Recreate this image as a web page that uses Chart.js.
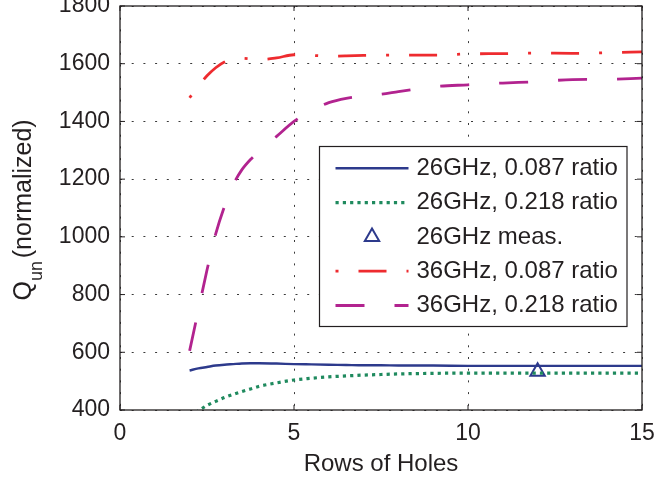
<!DOCTYPE html>
<html>
<head>
<meta charset="utf-8">
<script src="https://cdn.jsdelivr.net/npm/chart.js@4/dist/chart.umd.min.js"></script>
<style>
  html, body { margin: 0; padding: 0; background: #ffffff; }
  #wrap { width: 658px; height: 479px; }
</style>
</head>
<body>
<div id="wrap"><canvas id="c" width="658" height="479"></canvas></div>
<script>
// Number of hole rows (shared x values of the simulated curves)
const rows = [2, 2.25, 2.5, 2.75, 3, 3.25, 3.5, 3.75, 4, 4.5, 5, 5.5, 6, 6.5, 7, 7.5, 8, 9, 10, 11, 12, 13, 14, 15];

// Unloaded Q (normalized) per configuration
const q26_087 = [537, 544, 549, 554, 557, 559, 561, 562, 562, 561, 559, 558, 557, 556, 555, 555, 554, 554, 553, 553, 553, 553, 553, 553];
const q26_218 = [378, 397, 416, 430, 443, 454, 464, 473, 482, 494, 504, 510, 515, 518, 521, 523, 525, 527, 528, 528, 528, 528, 528, 528];
const q36_087 = [1482, 1522, 1558, 1586, 1606, 1615, 1619, 1617, 1614, 1620, 1631, 1629, 1626, 1627, 1629, 1630, 1630, 1630, 1634, 1635, 1637, 1636, 1638, 1641];
const q36_218 = [605, 745, 885, 1010, 1105, 1180, 1232, 1268, 1296, 1348, 1400, 1437, 1465, 1480, 1488, 1494, 1503, 1520, 1527, 1533, 1538, 1545, 1546, 1550];

// Measured point at 26 GHz
const measRows = [12];
const measQ = [533];

// Axis ticks
const xTickValues = [0, 5, 10, 15];
const yTickValues = [400, 600, 800, 1000, 1200, 1400, 1600, 1800];

const FONT = '"Liberation Sans", Arial, Helvetica, sans-serif';
const TEXT = '#231F20';
const BLUE = '#2D3A8C';
const GREEN = '#1F8A5E';
const RED = '#EE2B2F';
const MAGENTA = '#B2238F';

const pts = (xs, ys) => xs.map((x, i) => ({ x: x, y: ys[i] }));

// Frame, inner ticks, axis titles and boxed legend
const framePlugin = {
  id: 'frame',
  afterDatasetsDraw(chart) {
    const ctx = chart.ctx;
    const ca = chart.chartArea;
    const xs = chart.scales.x, ys = chart.scales.y;
    ctx.save();

    // axes box
    ctx.strokeStyle = TEXT;
    ctx.lineWidth = 1.3;
    ctx.setLineDash([]);
    ctx.strokeRect(ca.left, ca.top, ca.right - ca.left, ca.bottom - ca.top);

    // inward tick marks
    ctx.lineWidth = 1;
    const tl = 5;
    ctx.beginPath();
    xTickValues.forEach(v => {
      const px = xs.getPixelForValue(v);
      ctx.moveTo(px, ca.bottom); ctx.lineTo(px, ca.bottom - tl);
      ctx.moveTo(px, ca.top); ctx.lineTo(px, ca.top + tl);
    });
    yTickValues.forEach(v => {
      const py = ys.getPixelForValue(v);
      ctx.moveTo(ca.left, py); ctx.lineTo(ca.left + tl, py);
      ctx.moveTo(ca.right, py); ctx.lineTo(ca.right - tl, py);
    });
    ctx.stroke();

    // x title
    ctx.fillStyle = TEXT;
    ctx.font = '24px ' + FONT;
    ctx.textAlign = 'center';
    ctx.textBaseline = 'alphabetic';
    ctx.fillText('Rows of Holes', (ca.left + ca.right) / 2, 471);

    // y title with subscript
    ctx.save();
    ctx.translate(31, 300.5);
    ctx.rotate(-Math.PI / 2);
    ctx.textAlign = 'left';
    ctx.font = '25px ' + FONT;
    ctx.fillText('Q', 0, 0);
    let w = ctx.measureText('Q').width;
    ctx.font = '18px ' + FONT;
    ctx.fillText('un', w, 11);
    w += ctx.measureText('un').width;
    ctx.font = '25px ' + FONT;
    ctx.fillText('(normalized)', w + 2.8, 0);
    ctx.restore();

    // legend box
    const L = { left: ca.right - 322.5, top: ca.top + 140.5, w: 307.5, h: 180 };
    ctx.fillStyle = '#ffffff';
    ctx.fillRect(L.left, L.top, L.w, L.h);
    ctx.strokeStyle = TEXT;
    ctx.lineWidth = 1.2;
    ctx.strokeRect(L.left, L.top, L.w, L.h);

    const x0 = L.left + 16, x1 = L.left + 89, xt = L.left + 97;
    chart.data.datasets.forEach((ds, i) => {
      const cy = L.top + 21.8 + i * 34.3;
      if (ds.showLine === false) {
        const r = ds.pointRadius, cx = (x0 + x1) / 2;
        ctx.beginPath();
        ctx.moveTo(cx, cy - r);
        ctx.lineTo(cx + r * Math.sin(2 * Math.PI / 3), cy - r * Math.cos(2 * Math.PI / 3));
        ctx.lineTo(cx + r * Math.sin(4 * Math.PI / 3), cy - r * Math.cos(4 * Math.PI / 3));
        ctx.closePath();
        ctx.setLineDash([]);
        ctx.strokeStyle = ds.pointBorderColor;
        ctx.lineWidth = ds.pointBorderWidth;
        ctx.stroke();
      } else {
        ctx.beginPath();
        ctx.moveTo(x0, cy);
        ctx.lineTo(x1, cy);
        ctx.setLineDash(ds.borderDash || []);
        ctx.lineDashOffset = 0;
        ctx.strokeStyle = ds.borderColor;
        ctx.lineWidth = ds.borderWidth;
        ctx.lineCap = 'butt';
        ctx.stroke();
      }
      ctx.setLineDash([]);
      ctx.fillStyle = TEXT;
      ctx.font = '24px ' + FONT;
      ctx.textAlign = 'left';
      ctx.textBaseline = 'middle';
      ctx.fillText(ds.label, xt, cy);
    });

    ctx.restore();
  }
};

new Chart(document.getElementById('c').getContext('2d'), {
  type: 'line',
  data: {
    datasets: [
      { label: '26GHz, 0.087 ratio', data: pts(rows, q26_087), borderColor: BLUE, borderWidth: 2.4, borderDash: [], clip: 0 },
      { label: '26GHz, 0.218 ratio', data: pts(rows, q26_218), borderColor: GREEN, borderWidth: 3.2, borderDash: [3.2, 4.1], clip: 0 },
      { label: '26GHz meas.', data: pts(measRows, measQ), showLine: false, pointStyle: 'triangle',
        pointRadius: 8.3, pointBorderWidth: 2, pointBorderColor: BLUE, pointBackgroundColor: 'rgba(0,0,0,0)', borderColor: BLUE },
      { label: '36GHz, 0.087 ratio', data: pts(rows, q36_087), borderColor: RED, borderWidth: 2.8, borderDash: [3, 20, 28, 20], clip: 0 },
      { label: '36GHz, 0.218 ratio', data: pts(rows, q36_218), borderColor: MAGENTA, borderWidth: 2.8, borderDash: [29, 30], clip: 0 }
    ]
  },
  options: {
    responsive: false,
    animation: false,
    devicePixelRatio: 1,
    layout: { autoPadding: false, padding: { left: 0, top: 6, right: 16, bottom: 0 } },
    elements: {
      line: { tension: 0, cubicInterpolationMode: 'monotone', fill: false, borderCapStyle: 'butt' },
      point: { radius: 0, hoverRadius: 0 }
    },
    plugins: { legend: { display: false }, tooltip: { enabled: false } },
    scales: {
      x: {
        type: 'linear', min: 0, max: 15,
        afterBuildTicks: s => { s.ticks = xTickValues.map(v => ({ value: v })); },
        ticks: { padding: 10, maxRotation: 0, autoSkip: false, color: TEXT,
                 font: { family: FONT, size: 23 }, callback: v => String(v) },
        grid: { color: '#3a3a3a', lineWidth: 1, drawTicks: false },
        border: { display: false, dash: [2, 9.7] },
        afterFit: s => { s.height = 69; s.paddingLeft = 0; s.paddingRight = 0; }
      },
      y: {
        type: 'linear', min: 400, max: 1800,
        afterBuildTicks: s => { s.ticks = yTickValues.map(v => ({ value: v })); },
        ticks: { padding: 10, color: TEXT, font: { family: FONT, size: 23 }, callback: v => String(v) },
        grid: { color: '#3a3a3a', lineWidth: 1, drawTicks: false },
        border: { display: false, dash: [2, 9.7] },
        afterFit: s => { s.width = 120; s.paddingTop = 0; s.paddingBottom = 0; }
      }
    }
  },
  plugins: [framePlugin]
});
</script>
</body>
</html>
